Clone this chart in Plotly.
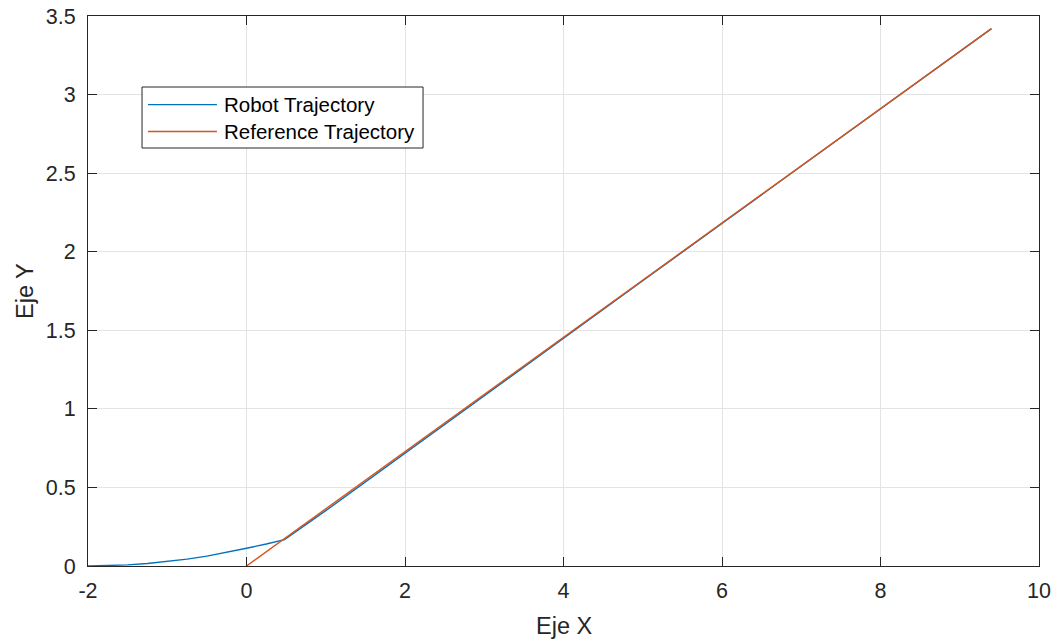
import plotly.graph_objects as go

# Robot path (blue) and the straight reference path (orange)
robot_x = [-2.0, -1.75, -1.5, -1.25, -1.0, -0.75, -0.5, -0.25, 0.0, 0.25, 0.48,
           1.0, 2.0, 3.0, 4.0, 5.0, 6.0, 7.0, 8.0, 9.0, 9.4]
robot_y = [0.0, 0.002, 0.007, 0.016, 0.028, 0.044, 0.063, 0.086, 0.113, 0.140, 0.168,
           0.352, 0.719, 1.085, 1.450, 1.815, 2.180, 2.545, 2.910, 3.274, 3.42]

ref_x = [0.0, 9.4]
ref_y = [0.0, 3.42]

x_ticks = [-2, 0, 2, 4, 6, 8, 10]
x_labels = ["-2", "0", "2", "4", "6", "8", "10"]
y_ticks = [0, 0.5, 1, 1.5, 2, 2.5, 3, 3.5]
y_labels = ["0", "0.5", "1", "1.5", "2", "2.5", "3", "3.5"]

series_names = ["Robot Trajectory", "Reference Trajectory"]
series_colors = ["#0072BD", "#D95319"]

FONT = "Liberation Sans, Arial, sans-serif"
AX = "#262626"
GRID = "#e3e3e3"

fig = go.Figure()
fig.add_trace(go.Scatter(x=robot_x, y=robot_y, mode="lines", name=series_names[0],
                         line=dict(color=series_colors[0], width=1.4)))
fig.add_trace(go.Scatter(x=ref_x, y=ref_y, mode="lines", name=series_names[1],
                         line=dict(color=series_colors[1], width=1.4)))

axis_common = dict(
    showline=True, linecolor=AX, linewidth=1, mirror="allticks",
    ticks="inside", ticklen=9, tickcolor=AX, tickwidth=1,
    showgrid=True, gridcolor=GRID, gridwidth=1, zeroline=False,
    automargin=False,
    tickfont=dict(family=FONT, size=21.5, color=AX),
)

fig.update_layout(
    template="none",
    width=1059, height=641,
    margin=dict(l=88, r=20, t=16, b=75),
    paper_bgcolor="white", plot_bgcolor="white",
    showlegend=False,
    xaxis=dict(range=[-2, 10], tickvals=x_ticks, ticktext=x_labels, ticklabelstandoff=5,
               **axis_common),
    yaxis=dict(range=[0, 3.5], tickvals=y_ticks, ticktext=y_labels, ticklabelstandoff=7,
               **axis_common),
)

# Axis titles
fig.add_annotation(text="Eje X", xref="paper", yref="paper", x=0.5, y=0, yshift=-60,
                   xanchor="center", yanchor="middle",
                   showarrow=False, font=dict(family=FONT, size=23.5, color=AX))
fig.add_annotation(text="Eje Y", xref="paper", yref="paper", x=0, y=0.5, xshift=-63,
                   xanchor="center", yanchor="middle",
                   textangle=-90, showarrow=False, font=dict(family=FONT, size=23.5, color=AX))

# Legend box drawn in paper coordinates
lx0, lx1 = 0.0568, 0.3523
ly0, ly1 = 0.7600, 0.8709
fig.add_shape(type="rect", xref="paper", yref="paper", x0=lx0, x1=lx1, y0=ly0, y1=ly1,
              line=dict(color=AX, width=1), fillcolor="white", layer="above")
row_y = [0.8390, 0.7900]
for name, color, yy in zip(series_names, series_colors, row_y):
    fig.add_shape(type="line", xref="paper", yref="paper", x0=0.0631, x1=0.1356,
                  y0=yy, y1=yy, line=dict(color=color, width=1.3), layer="above")
    fig.add_annotation(text=name, xref="paper", yref="paper", x=0.1409, y=yy,
                       xanchor="left", yanchor="middle", showarrow=False,
                       font=dict(family=FONT, size=20.5, color="#000000"))

fig.write_html("out.html")
